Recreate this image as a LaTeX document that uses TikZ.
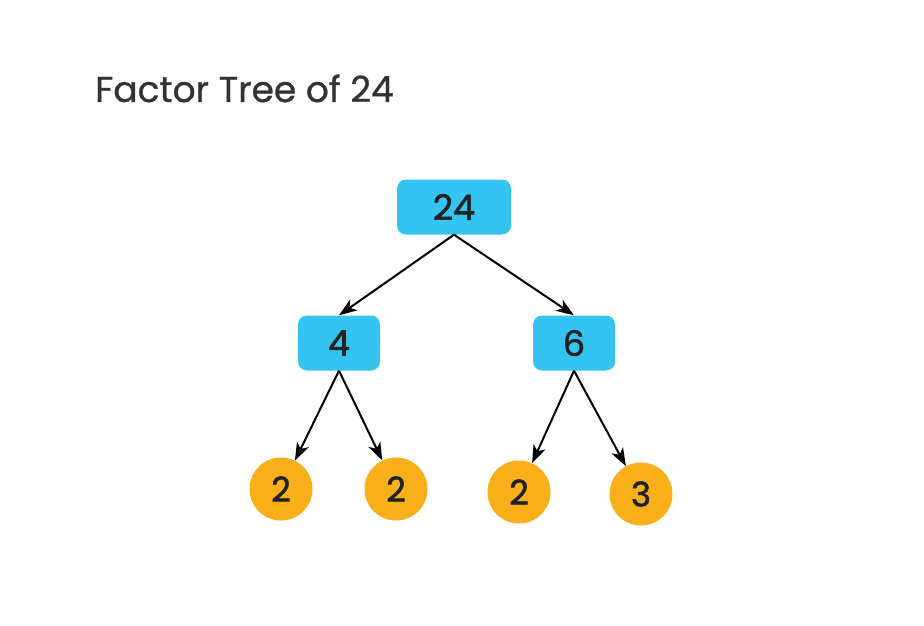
\documentclass[tikz,border=0pt]{standalone}
\usepackage{fontspec}
\setmainfont{Poppins}
\newfontfamily\titlefont[FakeBold=0.8]{Poppins}
\newfontfamily\numfont[FakeBold=1.6]{Poppins}
\usetikzlibrary{arrows.meta}
\definecolor{boxblue}{HTML}{35C4F1}
\definecolor{leaforange}{HTML}{F9AF1A}
\definecolor{txt}{HTML}{222222}
\definecolor{titlec}{HTML}{333333}
\tikzset{
  box/.style={fill=boxblue, rounded corners=9pt, minimum height=55pt, text=txt, font=\numfont\fontsize{35}{40}\selectfont},
  leaf/.style={circle, fill=leaforange, minimum size=63pt, inner sep=0pt, text=txt, font=\numfont\fontsize{34}{38}\selectfont},
  arr/.style={-{Stealth[length=18pt,width=13pt,inset=5pt]}, line width=2pt, black},
}
\begin{document}
\begin{tikzpicture}[x=1pt,y=-1pt]
\useasboundingbox (0,0) rectangle (924,626);
\fill[white] (0,0) rectangle (924,626);
\node[anchor=base west, text=titlec, font=\titlefont\fontsize{36}{40}\selectfont, inner sep=0pt] (title) at (95,102) {Factor Tree of 24};
\node[box, minimum width=114pt] (n24) at (454,207) {24};
\node[box, minimum width=82pt] (n4) at (339,343) {4};
\node[box, minimum width=82pt] (n6) at (574,343) {6};
\node[leaf] (a) at (281,489) {2};
\node[leaf] (b) at (396,489) {2};
\node[leaf] (c) at (519,492) {2};
\node[leaf] (d) at (641,494) {3};
\draw[arr] (n24.south) -- (n4.north);
\draw[arr] (n24.south) -- (n6.north);
\draw[arr] (n4.south) -- (a);
\draw[arr] (n4.south) -- (b);
\draw[arr] (n6.south) -- (c);
\draw[arr] (n6.south) -- (d);
\end{tikzpicture}
\end{document}
